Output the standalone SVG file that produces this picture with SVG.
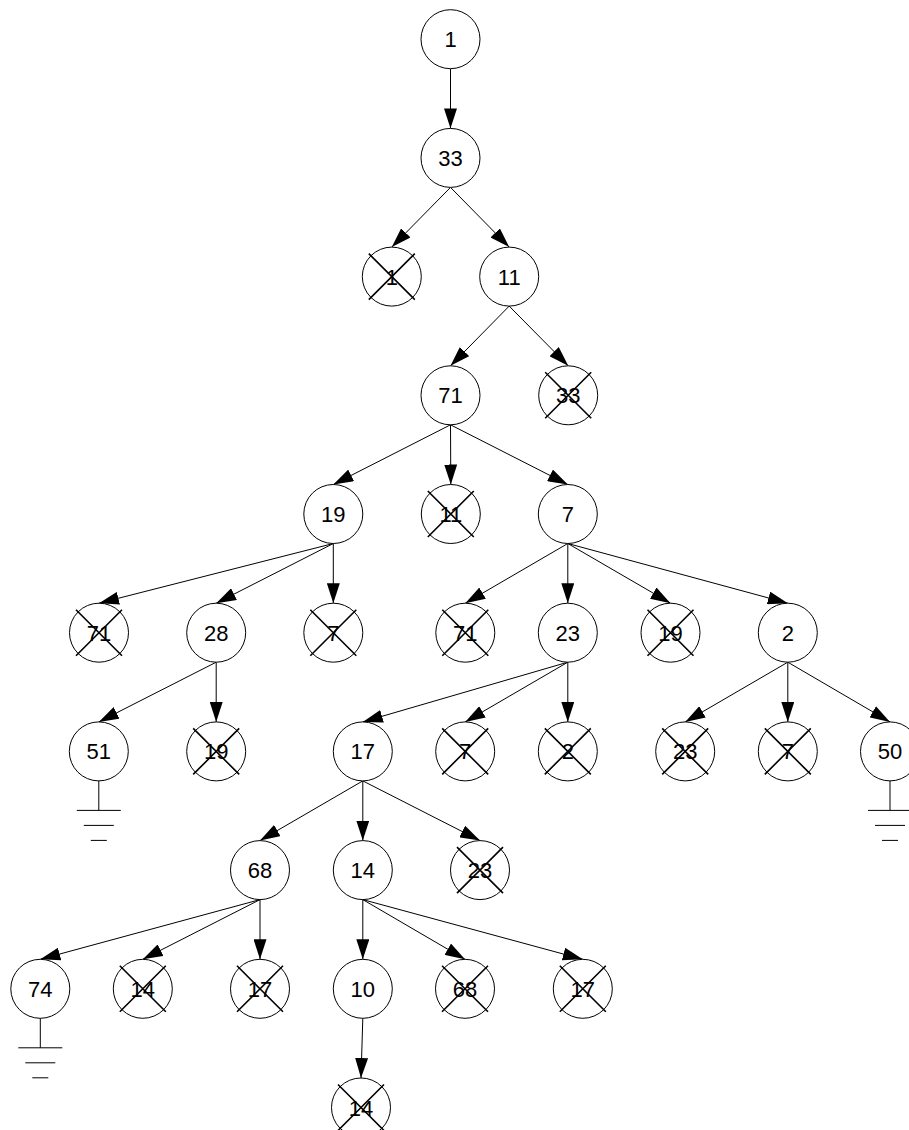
<svg xmlns="http://www.w3.org/2000/svg" width="909" height="1130" viewBox="0 0 909 1130">
<style>
.n circle{fill:#fff;stroke:#000;stroke-width:1}
.n text{font-family:"Liberation Sans",Arial,sans-serif;font-size:22px;text-anchor:middle;fill:#000}
.x{stroke:#000;stroke-width:1.6;fill:none}
.g{stroke:#000;stroke-width:1;fill:none}
#edges line{stroke:#000;stroke-width:1;marker-end:url(#ah)}
</style>
<defs>
<marker id="ah" markerUnits="userSpaceOnUse" markerWidth="20" markerHeight="13" refX="20" refY="6.5" orient="auto">
<path d="M0,0 L20,6.5 L0,13 z" fill="#000"/>
</marker>
<g id="xm"><path class="x" d="M-23,-23 L23,23 M23,-23 L-23,23"/></g>
<g id="gnd"><path class="g" d="M0,29.5 V59 M-22,59 H22 M-15,74 H15 M-8,89 H8"/></g>
</defs>
<g id="edges">
<line x1="450.5" y1="68.7" x2="450.5" y2="128.4"/>
<line x1="450.5" y1="187.4" x2="391.8" y2="247.1"/>
<line x1="450.5" y1="187.4" x2="509.2" y2="247.1"/>
<line x1="509.2" y1="306.1" x2="450.5" y2="365.8"/>
<line x1="509.2" y1="306.1" x2="568.2" y2="365.8"/>
<line x1="450.5" y1="424.8" x2="333.3" y2="484.5"/>
<line x1="450.5" y1="424.8" x2="450.8" y2="484.5"/>
<line x1="450.5" y1="424.8" x2="567.8" y2="484.5"/>
<line x1="333.3" y1="543.5" x2="99" y2="603.2"/>
<line x1="333.3" y1="543.5" x2="216.2" y2="603.2"/>
<line x1="333.3" y1="543.5" x2="333.3" y2="603.2"/>
<line x1="567.8" y1="543.5" x2="465.3" y2="603.2"/>
<line x1="567.8" y1="543.5" x2="567.8" y2="603.2"/>
<line x1="567.8" y1="543.5" x2="670.5" y2="603.2"/>
<line x1="567.8" y1="543.5" x2="787.8" y2="603.2"/>
<line x1="216.2" y1="662.2" x2="98.8" y2="721.9"/>
<line x1="216.2" y1="662.2" x2="216.2" y2="721.9"/>
<line x1="567.8" y1="662.2" x2="362.8" y2="721.9"/>
<line x1="567.8" y1="662.2" x2="465.2" y2="721.9"/>
<line x1="567.8" y1="662.2" x2="567.8" y2="721.9"/>
<line x1="787.8" y1="662.2" x2="685.2" y2="721.9"/>
<line x1="787.8" y1="662.2" x2="787.8" y2="721.9"/>
<line x1="787.8" y1="662.2" x2="890" y2="721.9"/>
<line x1="362.8" y1="780.9" x2="260" y2="840.6"/>
<line x1="362.8" y1="780.9" x2="362.8" y2="840.6"/>
<line x1="362.8" y1="780.9" x2="480" y2="840.6"/>
<line x1="260" y1="899.6" x2="40.3" y2="959.3"/>
<line x1="260" y1="899.6" x2="142.8" y2="959.3"/>
<line x1="260" y1="899.6" x2="260" y2="959.3"/>
<line x1="362.8" y1="899.6" x2="362.8" y2="959.3"/>
<line x1="362.8" y1="899.6" x2="465" y2="959.3"/>
<line x1="362.8" y1="899.6" x2="582.8" y2="959.3"/>
<line x1="362.8" y1="1018.3" x2="361" y2="1078"/>
</g>
<g id="n-1" class="n" transform="translate(450.5,39.2)"><circle r="29.5"/><text y="8">1</text></g>
<g id="n-33" class="n" transform="translate(450.5,157.9)"><circle r="29.5"/><text y="8">33</text></g>
<g id="x-1" class="n" transform="translate(391.8,276.6)"><circle r="29.5"/><text y="8">1</text><use href="#xm"/></g>
<g id="n-11" class="n" transform="translate(509.2,276.6)"><circle r="29.5"/><text y="8">11</text></g>
<g id="n-71" class="n" transform="translate(450.5,395.3)"><circle r="29.5"/><text y="8">71</text></g>
<g id="x-33" class="n" transform="translate(568.2,395.3)"><circle r="29.5"/><text y="8">33</text><use href="#xm"/></g>
<g id="n-19" class="n" transform="translate(333.3,514)"><circle r="29.5"/><text y="8">19</text></g>
<g id="x-11" class="n" transform="translate(450.8,514)"><circle r="29.5"/><text y="8">11</text><use href="#xm"/></g>
<g id="n-7" class="n" transform="translate(567.8,514)"><circle r="29.5"/><text y="8">7</text></g>
<g id="x-71a" class="n" transform="translate(99,632.7)"><circle r="29.5"/><text y="8">71</text><use href="#xm"/></g>
<g id="n-28" class="n" transform="translate(216.2,632.7)"><circle r="29.5"/><text y="8">28</text></g>
<g id="x-7a" class="n" transform="translate(333.3,632.7)"><circle r="29.5"/><text y="8">7</text><use href="#xm"/></g>
<g id="x-71b" class="n" transform="translate(465.3,632.7)"><circle r="29.5"/><text y="8">71</text><use href="#xm"/></g>
<g id="n-23" class="n" transform="translate(567.8,632.7)"><circle r="29.5"/><text y="8">23</text></g>
<g id="x-19a" class="n" transform="translate(670.5,632.7)"><circle r="29.5"/><text y="8">19</text><use href="#xm"/></g>
<g id="n-2" class="n" transform="translate(787.8,632.7)"><circle r="29.5"/><text y="8">2</text></g>
<g id="n-51" class="n" transform="translate(98.8,751.4)"><circle r="29.5"/><text y="8">51</text><use href="#gnd"/></g>
<g id="x-19b" class="n" transform="translate(216.2,751.4)"><circle r="29.5"/><text y="8">19</text><use href="#xm"/></g>
<g id="n-17" class="n" transform="translate(362.8,751.4)"><circle r="29.5"/><text y="8">17</text></g>
<g id="x-7b" class="n" transform="translate(465.2,751.4)"><circle r="29.5"/><text y="8">7</text><use href="#xm"/></g>
<g id="x-2" class="n" transform="translate(567.8,751.4)"><circle r="29.5"/><text y="8">2</text><use href="#xm"/></g>
<g id="x-23a" class="n" transform="translate(685.2,751.4)"><circle r="29.5"/><text y="8">23</text><use href="#xm"/></g>
<g id="x-7c" class="n" transform="translate(787.8,751.4)"><circle r="29.5"/><text y="8">7</text><use href="#xm"/></g>
<g id="n-50" class="n" transform="translate(890,751.4)"><circle r="29.5"/><text y="8">50</text><use href="#gnd"/></g>
<g id="n-68" class="n" transform="translate(260,870.1)"><circle r="29.5"/><text y="8">68</text></g>
<g id="n-14" class="n" transform="translate(362.8,870.1)"><circle r="29.5"/><text y="8">14</text></g>
<g id="x-23b" class="n" transform="translate(480,870.1)"><circle r="29.5"/><text y="8">23</text><use href="#xm"/></g>
<g id="n-74" class="n" transform="translate(40.3,988.8)"><circle r="29.5"/><text y="8">74</text><use href="#gnd"/></g>
<g id="x-14a" class="n" transform="translate(142.8,988.8)"><circle r="29.5"/><text y="8">14</text><use href="#xm"/></g>
<g id="x-17a" class="n" transform="translate(260,988.8)"><circle r="29.5"/><text y="8">17</text><use href="#xm"/></g>
<g id="n-10" class="n" transform="translate(362.8,988.8)"><circle r="29.5"/><text y="8">10</text></g>
<g id="x-68" class="n" transform="translate(465,988.8)"><circle r="29.5"/><text y="8">68</text><use href="#xm"/></g>
<g id="x-17b" class="n" transform="translate(582.8,988.8)"><circle r="29.5"/><text y="8">17</text><use href="#xm"/></g>
<g id="x-14b" class="n" transform="translate(361,1107.5)"><circle r="29.5"/><text y="8">14</text><use href="#xm"/></g>
</svg>
